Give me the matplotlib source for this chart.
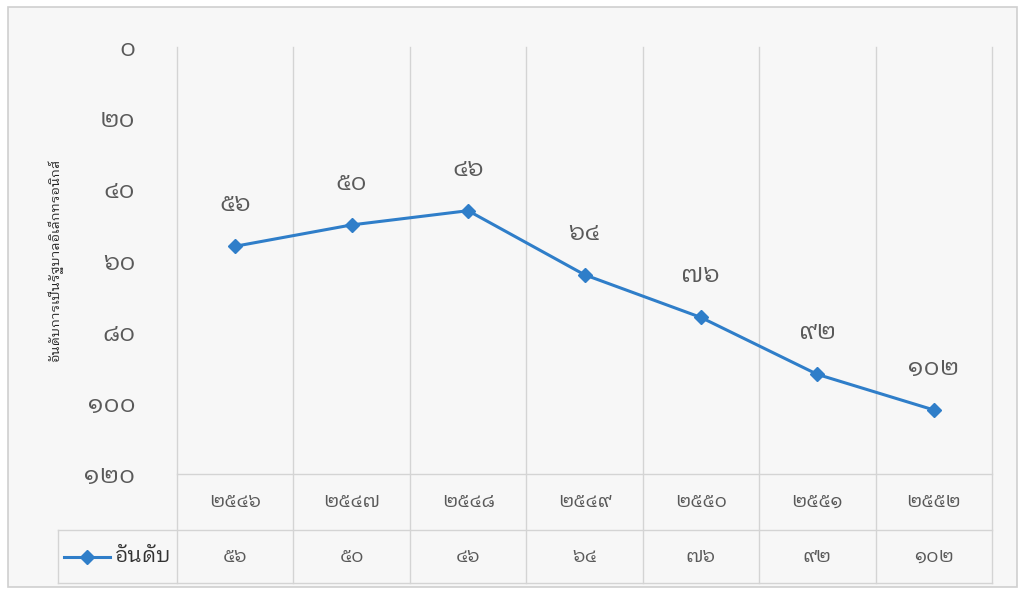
import matplotlib
matplotlib.use("Agg")
import matplotlib.pyplot as plt
import matplotlib.transforms as mtransforms
from matplotlib import font_manager
from matplotlib.ft2font import FT2Font
from matplotlib.patches import Rectangle
from matplotlib.lines import Line2D

years = ["๒๕๔๖", "๒๕๔๗", "๒๕๔๘", "๒๕๔๙", "๒๕๕๐", "๒๕๕๑", "๒๕๕๒"]
ranks = [56, 50, 46, 64, 76, 92, 102]
rank_labels = ["๕๖", "๕๐", "๔๖", "๖๔", "๗๖", "๙๒", "๑๐๒"]
y_ticks = [0, 20, 40, 60, 80, 100, 120]
y_tick_labels = ["๐", "๒๐", "๔๐", "๖๐", "๘๐", "๑๐๐", "๑๒๐"]
series_name = "อันดับ"
y_title = "อันดับการเป็นรัฐบาลอิเล็กทรอนิกส์"

line_color = "#2f7ec9"
grid_color = "#d4d4d4"
text_gray = "#595959"


# look for any installed font that actually has Thai glyphs
def find_thai_font():
    found = []
    for f in font_manager.fontManager.ttflist:
        try:
            ft = FT2Font(f.fname)
            if ft.get_char_index(0x0E50) and ft.get_char_index(0x0E01):
                found.append(f.name)
        except Exception:
            continue
    # looped Thai digits are closer to the original
    for name in found:
        if "Looped" in name:
            return name
    for name in found:
        if "Thai" in name:
            return name
    return found[0] if found else None


thai = find_thai_font()
plt.rcParams["font.family"] = [thai, "DejaVu Sans"] if thai else ["DejaVu Sans"]

W, H = 1025, 589
fig = plt.figure(figsize=(W / 100, H / 100), dpi=100, facecolor="white")

# outer chart frame
frame = fig.add_axes([0, 0, 1, 1])
frame.set_xlim(0, W)
frame.set_ylim(H, 0)
frame.axis("off")
frame.add_patch(Rectangle((8, 7), 1009, 580, facecolor="#f7f7f7",
                          edgecolor="#cfcfcf", lw=1.2))

left, right, top, bottom = 177, 992, 47, 474
ax = fig.add_axes([left / W, 1 - bottom / H, (right - left) / W, (bottom - top) / H])
ax.set_facecolor("none")
n = len(years)
xs = list(range(n))
ax.set_xlim(-0.5, n - 0.5)
ax.set_ylim(120, 0)
for s in ax.spines.values():
    s.set_visible(False)
ax.set_xticks([])
ax.set_yticks(y_ticks)
ax.set_yticklabels(y_tick_labels, fontsize=18, color=text_gray)
ax.tick_params(axis="y", length=0, pad=30)
ax.set_ylabel(y_title, fontsize=9.5, color="#222222")
ax.yaxis.set_label_coords(-0.14, 0.5)

# table geometry in axes units
ph = bottom - top
row1 = -(530 - bottom) / ph
row2 = -(583 - bottom) / ph
trans = mtransforms.blended_transform_factory(ax.transData, ax.transAxes)

# vertical grid lines running down through the table
for b in range(n + 1):
    ax.plot([b - 0.5, b - 0.5], [1, row2], color=grid_color, lw=1,
            transform=trans, clip_on=False, zorder=1)
ax.plot([-0.5, n - 0.5], [0, 0], color=grid_color, lw=1,
        transform=trans, clip_on=False)
legend_left = -0.5 - (left - 58) / ((right - left) / n)
ax.plot([legend_left, n - 0.5], [row1, row1], color=grid_color, lw=1,
        transform=trans, clip_on=False)
ax.plot([legend_left, n - 0.5], [row2, row2], color=grid_color, lw=1,
        transform=trans, clip_on=False)
ax.plot([legend_left, legend_left], [row1, row2], color=grid_color, lw=1,
        transform=trans, clip_on=False)

# series
ax.plot(xs, ranks, color=line_color, lw=2.2, marker="D", ms=7,
        zorder=3, clip_on=False)
for x, v, lab in zip(xs, ranks, rank_labels):
    ax.annotate(lab, (x, v), xytext=(0, 30), textcoords="offset points",
                ha="center", va="center", fontsize=18, color=text_gray)

# table text
for x, yr, lab in zip(xs, years, rank_labels):
    ax.text(x, row1 / 2, yr, transform=trans, ha="center", va="center",
            fontsize=14, color=text_gray, clip_on=False)
    ax.text(x, (row1 + row2) / 2, lab, transform=trans, ha="center",
            va="center", fontsize=14, color=text_gray, clip_on=False)

# legend key in the table
ymid = (row1 + row2) / 2
ax.add_line(Line2D([legend_left + 0.05, legend_left + 0.45], [ymid, ymid],
                   color=line_color, lw=2.2, transform=trans, clip_on=False))
ax.plot([legend_left + 0.25], [ymid], marker="D", ms=7, color=line_color,
        transform=trans, clip_on=False)
ax.text(legend_left + 0.49, ymid, series_name, transform=trans, ha="left",
        va="center", fontsize=15, color="#333333", clip_on=False)

fig.savefig("out.png", dpi=100, facecolor="white")
